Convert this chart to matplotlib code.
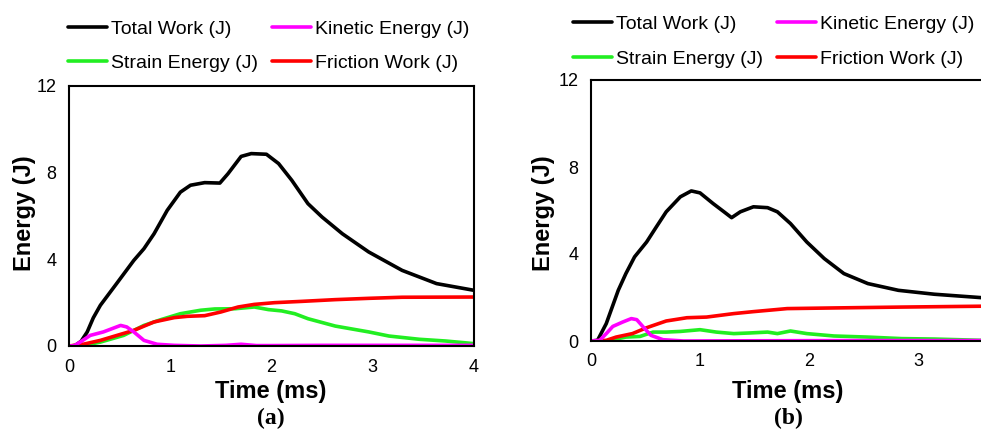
import matplotlib.pyplot as plt

plt.rcParams['font.family'] = ['Liberation Sans', 'DejaVu Sans']

# (a) energy histories
t_total_a = [0, 0.06, 0.12, 0.18, 0.24, 0.31, 0.47, 0.64, 0.74, 0.84, 0.97, 1.10, 1.20, 1.34,
             1.49, 1.57, 1.70, 1.80, 1.95, 2.07, 2.20, 2.36, 2.50, 2.70, 2.96, 3.29, 3.63, 4.0]
e_total_a = [0, 0.02, 0.22, 0.65, 1.30, 1.88, 2.88, 3.95, 4.49, 5.18, 6.26, 7.10, 7.42, 7.54,
             7.52, 7.95, 8.75, 8.88, 8.85, 8.42, 7.65, 6.57, 5.95, 5.18, 4.34, 3.49, 2.88, 2.57]
t_kin_a = [0, 0.05, 0.11, 0.21, 0.34, 0.51, 0.57, 0.64, 0.74, 0.87, 1.04, 1.30, 1.55,
           1.70, 1.85, 2.0, 2.5, 3.0, 3.5, 4.0]
e_kin_a = [0, 0.01, 0.18, 0.49, 0.65, 0.95, 0.88, 0.65, 0.26, 0.08, 0.03, 0.0, 0.03,
           0.08, 0.02, 0.02, 0.03, 0.03, 0.03, 0.03]
t_str_a = [0, 0.15, 0.31, 0.54, 0.74, 0.91, 1.10, 1.30, 1.44, 1.64, 1.83, 1.97, 2.10,
           2.23, 2.36, 2.63, 2.96, 3.16, 3.46, 3.72, 4.0]
e_str_a = [0, 0.03, 0.18, 0.49, 0.95, 1.22, 1.49, 1.65, 1.71, 1.72, 1.80, 1.68, 1.62,
           1.49, 1.26, 0.92, 0.65, 0.46, 0.31, 0.23, 0.11]
t_fric_a = [0, 0.14, 0.31, 0.51, 0.64, 0.84, 1.04, 1.17, 1.34, 1.50, 1.67, 1.83, 2.03,
            2.30, 2.63, 2.96, 3.29, 4.0]
e_fric_a = [0, 0.08, 0.26, 0.54, 0.72, 1.11, 1.31, 1.37, 1.40, 1.57, 1.80, 1.92, 2.00,
            2.06, 2.14, 2.20, 2.25, 2.26]

# (b) energy histories
t_total_b = [0, 0.06, 0.14, 0.25, 0.32, 0.40, 0.51, 0.60, 0.69, 0.82, 0.92, 1.0, 1.12,
             1.22, 1.29, 1.37, 1.49, 1.62, 1.71, 1.83, 1.98, 2.14, 2.32, 2.54, 2.82,
             3.15, 3.59, 3.7]
e_total_b = [0, 0.03, 0.80, 2.33, 3.10, 3.87, 4.55, 5.25, 5.94, 6.63, 6.90, 6.81, 6.32,
             5.94, 5.67, 5.94, 6.17, 6.13, 5.94, 5.40, 4.55, 3.79, 3.10, 2.64, 2.33,
             2.15, 1.99, 1.97]
t_kin_b = [0, 0.08, 0.14, 0.20, 0.29, 0.37, 0.42, 0.48, 0.55, 0.66, 0.85, 1.5, 2.5, 3.7]
e_kin_b = [0, 0.03, 0.34, 0.67, 0.87, 1.03, 0.98, 0.64, 0.26, 0.06, 0.0, 0.01, 0.02, 0.02]
t_str_b = [0, 0.15, 0.20, 0.32, 0.45, 0.57, 0.69, 0.82, 1.0, 1.15, 1.31, 1.46, 1.62,
           1.71, 1.83, 1.98, 2.23, 2.54, 2.85, 3.15, 3.59, 3.7]
e_str_b = [0, 0.0, 0.06, 0.18, 0.21, 0.41, 0.41, 0.44, 0.52, 0.41, 0.34, 0.37, 0.41,
           0.34, 0.46, 0.34, 0.23, 0.18, 0.11, 0.09, 0.03, 0.03]
t_fric_b = [0, 0.14, 0.23, 0.38, 0.51, 0.69, 0.88, 1.06, 1.31, 1.49, 1.80, 2.23, 2.85,
            3.59, 3.7]
e_fric_b = [0, 0.03, 0.18, 0.34, 0.61, 0.92, 1.07, 1.10, 1.26, 1.35, 1.49, 1.52, 1.56,
            1.60, 1.60]

labels = ['Total Work (J)', 'Kinetic Energy (J)', 'Strain Energy (J)', 'Friction Work (J)']
colors = ['black', '#ff00ff', '#22ee22', '#ff0000']
yticks = [0, 4, 8, 12]

W, H = 981, 434
fig = plt.figure(figsize=(W / 100, H / 100), dpi=100)

# axes rectangles in pixels: left, top, right, bottom (right panel runs off the edge)
ax_a = fig.add_axes([69 / W, 1 - 346 / H, (474 - 69) / W, (346 - 86) / H])
ax_b = fig.add_axes([591 / W, 1 - 341 / H, 3.7 * 109 / W, (341 - 80) / H])

panels = [
    (ax_a, [(t_total_a, e_total_a), (t_kin_a, e_kin_a), (t_str_a, e_str_a), (t_fric_a, e_fric_a)],
     [0, 1, 2, 3, 4], 4.0, '(a)', 271, (68, 32), 36, 0.86),
    (ax_b, [(t_total_b, e_total_b), (t_kin_b, e_kin_b), (t_str_b, e_str_b), (t_fric_b, e_fric_b)],
     [0, 1, 2, 3], 3.7, '(b)', 788, (573, 27), 555, 0.92),
]

# legend fills column-wise, so this order gives rows Total/Kinetic and Strain/Friction
leg_order = [0, 2, 1, 3]

for ax, series, xticks, xmax, tag, xc, leg_xy, ylab_x, lspace in panels:
    lines = {}
    # total, strain, friction, then kinetic on top
    for idx in [0, 2, 3, 1]:
        t, e = series[idx]
        lines[idx], = ax.plot(t, e, color=colors[idx], lw=2.6, solid_capstyle='round',
                              label=labels[idx])
    ax.set_xlim(0, xmax)
    ax.set_ylim(0, 12)
    ax.set_xticks(xticks)
    ax.set_yticks(yticks)
    ax.tick_params(length=0, labelsize=13, pad=9)
    for sp in ax.spines.values():
        sp.set_linewidth(1.5)
    ax.set_ylabel('Energy (J)', fontsize=17, fontweight='bold')
    ax.yaxis.set_label_coords(ylab_x / W, 1 - 213 / H, transform=fig.transFigure)
    ax.set_xlabel('Time (ms)', fontsize=17, fontweight='bold')
    ax.xaxis.set_label_coords(xc / W, 1 - 380 / H, transform=fig.transFigure)
    fig.text(xc / W, 1 - 424 / H, tag, ha='center', va='baseline', fontsize=17,
             fontweight='bold', family='Liberation Serif')
    fig.legend([lines[i] for i in leg_order], [labels[i] for i in leg_order],
               ncol=2, frameon=False, fontsize=14,
               loc='upper left', bbox_to_anchor=(leg_xy[0] / W, 1 - (leg_xy[1] - 12) / H),
               borderpad=0, borderaxespad=0, handlelength=2.0, handletextpad=0.2,
               columnspacing=0.75, labelspacing=lspace)

fig.savefig('out.png', dpi=100)
